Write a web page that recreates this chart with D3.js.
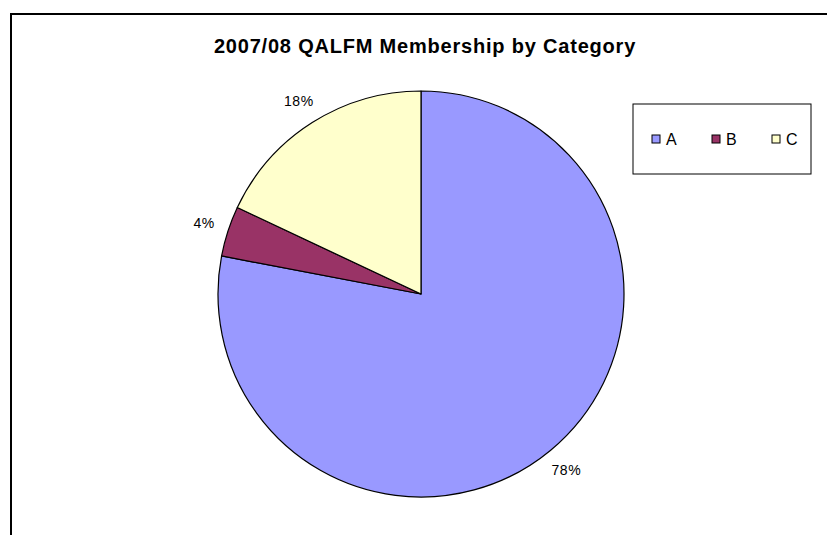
<!DOCTYPE html>
<html>
<head>
<meta charset="utf-8">
<script src="https://cdn.jsdelivr.net/npm/d3@7"></script>
<style>
  body { margin: 0; background: #fff; }
  text { font-family: "Liberation Sans", Arial, sans-serif; }
</style>
</head>
<body>
<div id="chart"></div>
<script>
// chart values
var categories = ["A", "B", "C"];
var shares = [78, 4, 18];
var colors = ["#9999FF", "#993366", "#FFFFCC"];
var chartTitle = "2007/08 QALFM Membership by Category";

var width = 827, height = 535;
var cx = 421, cy = 294, radius = 203;

var svg = d3.select("#chart")
	.append("svg")
	  .attr("width", width)
	  .attr("height", height);

// outer frame (runs off the right and bottom edges)
svg.append("rect")
	.attr("x", 11)
	.attr("y", 14)
	.attr("width", 840)
	.attr("height", 540)
	.attr("fill", "#fff")
	.attr("stroke", "#000")
	.attr("stroke-width", 2);

svg.append("text")
	.attr("x", 425)
	.attr("y", 53)
	.attr("text-anchor", "middle")
	.style("font-size", "20px")
	.style("font-weight", "bold")
	.style("letter-spacing", "0.8px")
	.text(chartTitle);

var data = categories.map(function(c, i) {
	return {name: c, value: shares[i], color: colors[i]};
});

var pie = d3.pie()
	.sort(null)
	.value(function(d) { return d.value; });

var arc = d3.arc()
	.innerRadius(0)
	.outerRadius(radius);

var labelArc = d3.arc()
	.innerRadius(radius + 25)
	.outerRadius(radius + 25);

var g = svg.append("g")
	.attr("transform", "translate(" + cx + "," + cy + ")");

var arcs = pie(data);

g.selectAll("path")
	.data(arcs)
  .enter().append("path")
	.attr("d", arc)
	.attr("fill", function(d) { return d.data.color; })
	.attr("stroke", "#000")
	.attr("stroke-width", 1.2)
	.attr("stroke-linejoin", "round");

g.selectAll(".lbl")
	.data(arcs)
  .enter().append("text")
	.attr("class", "lbl")
	.attr("transform", function(d) { return "translate(" + labelArc.centroid(d) + ")"; })
	.attr("dy", "0.35em")
	.attr("text-anchor", "middle")
	.style("font-size", "14px")
	.style("letter-spacing", "0.5px")
	.style("fill", "#000")
	.text(function(d) { return d.data.value + "%"; });

// legend
var legend = svg.append("g");
legend.append("rect")
	.attr("x", 633)
	.attr("y", 104)
	.attr("width", 178)
	.attr("height", 70)
	.attr("fill", "#fff")
	.attr("stroke", "#000")
	.attr("stroke-width", 1);

var items = legend.selectAll(".item")
	.data(data)
  .enter().append("g")
	.attr("class", "item")
	.attr("transform", function(d, i) { return "translate(" + (652 + i * 60) + ",139)"; });

items.append("rect")
	.attr("x", 0)
	.attr("y", -4)
	.attr("width", 8)
	.attr("height", 8)
	.attr("fill", function(d) { return d.color; })
	.attr("stroke", "#000")
	.attr("stroke-width", 1);

items.append("text")
	.attr("x", 14)
	.attr("dy", "0.36em")
	.style("font-size", "16px")
	.text(function(d) { return d.name; });
</script>
</body>
</html>
